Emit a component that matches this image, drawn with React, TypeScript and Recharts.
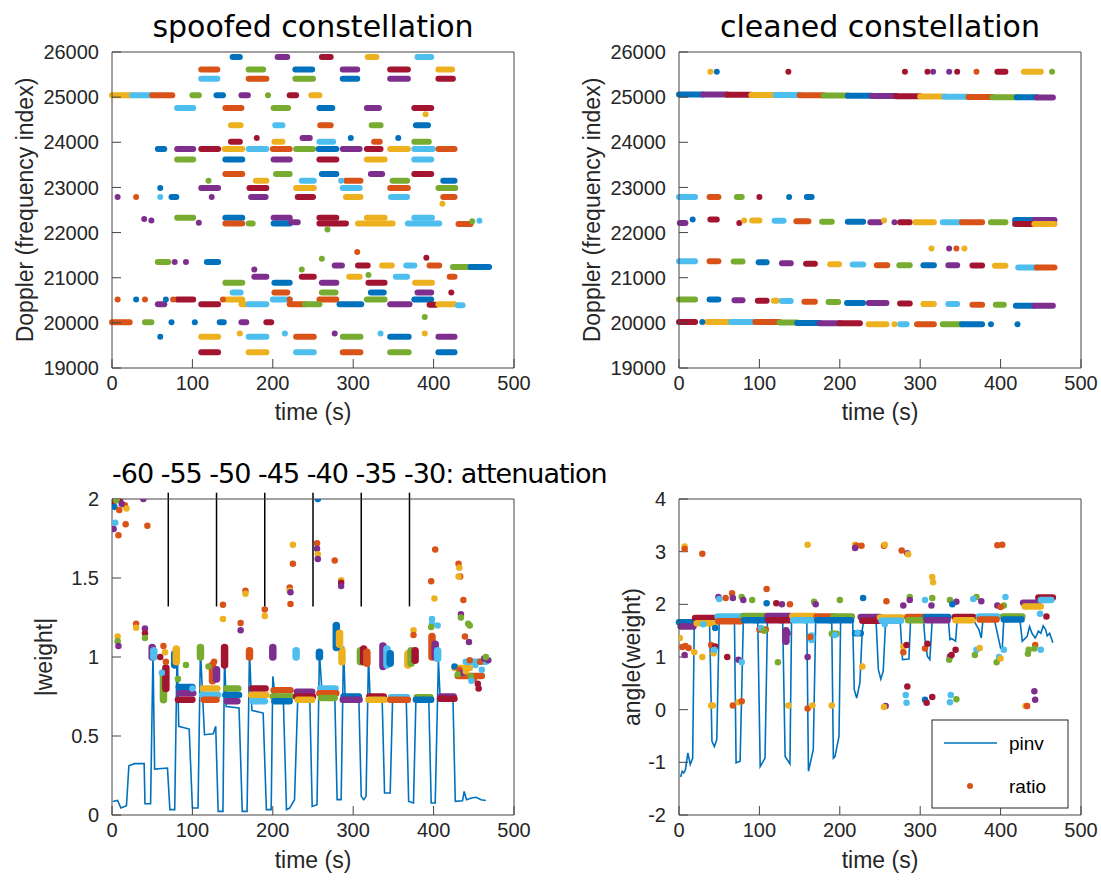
import React from 'react'
import { ComposedChart, Scatter, Line, XAxis, YAxis, ReferenceLine } from 'recharts'

const COLORS = ['#0072BD', '#D95319', '#EDB120', '#7E2F8E', '#77AC30', '#4DBEEE', '#A2142F']
const AXIS = '#444'
const SANS = 'Liberation Sans, Arial, sans-serif'
const TITLE_FONT = 'DejaVu Sans, sans-serif'

const TIME_TICKS = [0, 100, 200, 300, 400, 500]
const DOPPLER_TICKS = [19000, 20000, 21000, 22000, 23000, 24000, 25000, 26000]
const WEIGHT_TICKS = [0, 0.5, 1, 1.5, 2]
const ANGLE_TICKS = [-2, -1, 0, 1, 2, 3, 4]
const ATTEN_TIMES = [70, 130, 190, 250, 310, 370]

// horizontal runs of dots: [t start, t end, value]
const spoofedTracks = [
  [150, 159, 25890], [206, 218, 25890], [261, 272, 25890], [318, 329, 25890], [380, 397, 25890],
  [111, 131, 25610], [170, 188, 25610], [228, 249, 25610], [287, 305, 25610], [346, 368, 25610], [406, 423, 25610],
  [111, 131, 25410], [170, 192, 25410], [228, 250, 25410], [287, 305, 25410], [346, 368, 25410], [406, 424, 25410],
  [0, 25, 25040], [25, 50, 25040], [50, 75, 25040], [100, 108, 25040], [130, 138, 25040], [161, 169, 25040], [221, 229, 25040], [248, 258, 25040],
  [81, 101, 24760], [141, 161, 24760], [201, 219, 24760], [258, 274, 24760], [317, 332, 24760], [376, 397, 24760],
  [148, 160, 24380], [203, 212, 24380], [259, 272, 24380], [323, 334, 24380], [378, 393, 24380],
  [237, 246, 24095],
  [148, 159, 24010], [202, 212, 24010], [258, 275, 24010], [326, 333, 24010], [376, 394, 24010],
  [57, 65, 23850], [81, 101, 23850], [111, 132, 23850], [140, 162, 23850], [170, 192, 23850], [200, 221, 23850],
  [229, 250, 23850], [257, 279, 23850], [287, 308, 23850], [317, 334, 23850], [346, 368, 23850], [376, 399, 23850], [406, 426, 23850],
  [81, 101, 23620], [141, 162, 23620], [201, 221, 23620], [258, 279, 23620], [317, 339, 23620], [376, 397, 23620],
  [141, 162, 23300], [204, 221, 23300], [261, 279, 23300], [322, 336, 23300], [376, 397, 23300],
  [179, 192, 23150], [236, 251, 23150], [291, 309, 23150], [349, 367, 23150], [412, 426, 23150],
  [111, 132, 22990], [171, 192, 22990], [229, 251, 22990], [287, 308, 22990], [346, 368, 22990], [406, 427, 22990],
  [74, 80, 22790], [173, 191, 22790], [231, 250, 22790], [291, 309, 22790], [347, 367, 22790], [412, 426, 22790],
  [81, 101, 22330], [141, 162, 22330], [201, 221, 22330], [258, 279, 22330], [317, 339, 22330], [376, 398, 22330],
  [141, 162, 22200], [170, 175, 22200], [201, 221, 22200], [223, 231, 22230], [258, 291, 22200], [306, 349, 22200], [368, 407, 22200], [431, 446, 22190],
  [57, 70, 21350], [118, 132, 21350],
  [277, 286, 21270], [306, 318, 21270], [336, 348, 21270], [366, 376, 21270], [395, 407, 21270], [424, 446, 21240], [446, 469, 21240],
  [177, 192, 21020], [236, 251, 21020], [295, 308, 21020], [353, 367, 21020], [420, 426, 21020],
  [141, 162, 20890], [202, 221, 20890], [261, 279, 20890], [319, 339, 20890], [377, 398, 20890],
  [150, 160, 20670], [202, 218, 20670], [261, 278, 20670], [322, 338, 20670], [380, 397, 20670],
  [81, 101, 20515], [141, 162, 20515], [200, 221, 20515], [258, 279, 20515], [317, 339, 20515], [376, 397, 20515],
  [57, 65, 20410], [111, 132, 20410], [161, 167, 20410], [170, 192, 20410], [221, 240, 20410], [240, 258, 20410], [283, 310, 20410],
  [346, 370, 20410], [395, 403, 20400], [406, 426, 20410], [430, 436, 20390],
  [0, 22, 20013], [41, 49, 20013], [134, 139, 20013], [161, 167, 20013], [192, 198, 20013],
  [111, 132, 19690], [170, 192, 19690], [229, 251, 19690], [287, 309, 19690], [346, 369, 19690], [406, 426, 19690],
  [111, 132, 19350], [170, 192, 19350], [229, 251, 19350], [287, 309, 19350], [346, 369, 19350], [406, 426, 19350],
]

// single dots: [t, value, colour index]
const spoofedDots = [
  [194, 25040, 4], [390, 24620, 2], [180, 24095, 6], [297, 24095, 0], [356, 24095, 0],
  [120, 23150, 4], [285, 23150, 5], [60, 22990, 0],
  [7, 22790, 3], [30, 22790, 1], [60, 22790, 5], [124, 22790, 3], [411, 22640, 2],
  [40, 22300, 3], [49, 22270, 3], [108, 22220, 3], [448, 22250, 4], [457, 22260, 5], [268, 22066, 4],
  [78, 21350, 3], [92, 21350, 3], [261, 21420, 4], [391, 21440, 6], [305, 21570, 1],
  [177, 21180, 3], [236, 21180, 4], [319, 21060, 4], [422, 20670, 6],
  [7, 20515, 1], [30, 20515, 0], [41, 20515, 1], [67, 20515, 0], [76, 20515, 1], [138, 20515, 1], [221, 20515, 1],
  [74, 20013, 0], [103, 20013, 0], [389, 20130, 4],
  [60, 19690, 0], [159, 19763, 2], [215, 19763, 5], [277, 19763, 3], [334, 19763, 5], [389, 19763, 2],
]

const cleanedTracks = [
  [0, 30, 25060], [30, 60, 25058], [60, 90, 25055], [90, 120, 25050], [120, 150, 25045], [150, 180, 25040],
  [180, 210, 25035], [210, 240, 25030], [240, 270, 25025], [270, 300, 25020], [300, 330, 25015], [330, 360, 25010],
  [360, 390, 25005], [390, 420, 25000], [420, 445, 24995], [445, 465, 24990],
  [396, 406, 25560], [429, 450, 25560],
  [0, 20, 22790], [38, 49, 22790], [72, 78, 22790], [159, 165, 22790],
  [1, 8, 22210], [39, 47, 22290], [91, 100, 22270], [119, 130, 22260], [146, 161, 22250], [178, 190, 22240],
  [210, 229, 22240], [238, 250, 22230], [275, 287, 22230], [294, 317, 22230], [328, 352, 22230], [352, 377, 22230], [388, 406, 22230],
  [418, 442, 22280], [442, 467, 22280], [418, 442, 22190], [442, 467, 22190],
  [0, 20, 21364], [38, 49, 21364], [68, 79, 21360], [99, 109, 21340], [128, 139, 21320], [158, 169, 21310],
  [188, 199, 21300], [216, 229, 21290], [246, 259, 21275], [274, 287, 21275], [304, 317, 21275], [335, 346, 21275],
  [365, 377, 21270], [393, 406, 21265], [422, 445, 21225], [445, 467, 21225],
  [0, 20, 20516], [38, 49, 20516], [69, 79, 20500], [98, 109, 20490], [118, 122, 20490], [128, 139, 20485],
  [156, 169, 20470], [186, 198, 20460], [209, 229, 20440], [236, 258, 20440], [275, 287, 20430], [304, 317, 20420],
  [335, 346, 20420], [365, 377, 20400], [394, 404, 20400], [419, 442, 20380], [442, 465, 20380],
  [0, 20, 20020], [35, 65, 20020], [65, 95, 20020], [95, 125, 20020], [125, 147, 20010], [147, 175, 19995],
  [175, 200, 19990], [200, 225, 19990], [236, 258, 19970], [275, 283, 19970], [296, 317, 19970], [328, 352, 19970], [352, 377, 19970],
]

const cleanedDots = [
  [39, 25560, 2], [47, 25560, 0], [136, 25560, 6], [281, 25560, 6], [309, 25560, 6], [316, 25560, 3],
  [336, 25560, 3], [346, 25560, 6], [370, 25560, 1], [464, 25560, 4],
  [100, 22790, 6], [137, 22790, 0],
  [17, 22290, 0], [75, 22210, 6], [81, 22270, 2], [255, 22270, 2], [268, 22230, 3],
  [314, 21645, 2], [336, 21645, 3], [345, 21645, 1], [355, 21645, 2],
  [29, 20020, 0], [268, 19970, 2], [388, 19970, 0], [421, 19970, 0],
]

// pinv |weight| trace: [t, value]
const pinvWeight = [
  [1, 0.086], [7, 0.092], [11, 0.044], [18, 0.059], [21, 0.312], [28, 0.325], [40, 0.325], [41, 0.071], [48, 0.071],
  [51, 1.035], [53, 0.291], [69, 0.297], [72, 0.034], [78, 0.034], [81, 1.067], [83, 0.561], [96, 0.544], [100, 0.044],
  [107, 0.044], [110, 1.046], [115, 0.508], [126, 0.514], [129, 0.561], [132, 0.023], [138, 0.023], [140, 1.025],
  [142, 0.687], [158, 0.677], [162, 0.023], [168, 0.023], [171, 1.035], [174, 0.662], [188, 0.645], [192, 0.034],
  [198, 0.034], [200, 0.877], [203, 0.751], [213, 0.751], [217, 0.034], [221, 0.044], [227, 0.097], [231, 0.73],
  [246, 0.73], [249, 0.054], [255, 0.065], [258, 1.025], [261, 0.793], [277, 0.772], [280, 0.097], [285, 0.097],
  [288, 1.067], [290, 0.74], [307, 0.74], [310, 0.118], [313, 0.097], [316, 0.118], [319, 1.004], [321, 0.74],
  [336, 0.734], [339, 0.139], [346, 0.139], [349, 0.73], [366, 0.73], [369, 0.086], [375, 0.076], [378, 0.73],
  [394, 0.73], [397, 0.076], [402, 0.076], [406, 0.983], [408, 0.751], [424, 0.751], [427, 0.086], [436, 0.09],
  [438, 0.149], [441, 0.097], [447, 0.108], [453, 0.112], [459, 0.097], [465, 0.092],
]

const weightTracks = [
  [83, 100, 0.81], [84, 101, 0.77], [82, 100, 0.73],
  [113, 131, 0.8], [112, 132, 0.76], [114, 130, 0.73],
  [142, 157, 0.8], [141, 158, 0.76], [143, 156, 0.72],
  [174, 191, 0.8], [173, 192, 0.76], [175, 190, 0.72],
  [201, 222, 0.79], [200, 223, 0.75], [202, 221, 0.72],
  [230, 249, 0.78], [229, 250, 0.75], [231, 249, 0.73],
  [259, 278, 0.8], [258, 279, 0.77], [260, 277, 0.74],
  [288, 307, 0.75], [287, 308, 0.73],
  [320, 338, 0.75], [319, 339, 0.73],
  [347, 367, 0.745], [346, 368, 0.73],
  [379, 396, 0.745], [378, 397, 0.73],
  [409, 425, 0.75], [408, 426, 0.735],
  [426, 445, 0.93], [440, 465, 0.97], [430, 460, 0.88],
]

// vertical clumps: [t, low, high]
const weightColumns = [
  [50, 1.0, 1.06], [52, 1.0, 1.04], [78, 0.95, 1.02], [80, 0.97, 1.05], [110, 1.0, 1.06], [140, 0.95, 1.06],
  [171, 1.0, 1.04], [200, 1.0, 1.06], [229, 1.0, 1.04], [258, 1.0, 1.03], [286, 0.97, 1.04], [309, 0.97, 1.04],
  [313, 0.97, 1.05], [317, 0.96, 1.03], [337, 0.94, 1.07], [342, 0.95, 1.05], [346, 0.96, 1.02], [368, 0.95, 1.02],
  [372, 0.96, 1.04], [377, 0.98, 1.04], [398, 1.0, 1.13], [402, 1.0, 1.08], [405, 0.99, 1.04], [279, 1.06, 1.2],
  [283, 1.08, 1.15], [64, 0.73, 0.9], [67, 0.8, 0.93], [125, 0.85, 0.95], [130, 0.86, 0.92],
]

const weightDots = [
  [1, 1.98, 6], [3, 1.95, 0], [5, 1.99, 4], [9, 1.93, 1], [16, 1.96, 1], [18, 1.94, 2], [4, 1.85, 5], [2, 1.81, 3],
  [8, 1.77, 1], [17, 1.84, 1], [10, 2.0, 6], [6, 2.0, 4], [12, 1.97, 3], [39, 2.0, 3], [44, 1.83, 1],
  [7, 1.13, 2], [7, 1.1, 4], [8, 1.07, 3], [30, 1.21, 1], [30, 1.185, 2], [41, 1.18, 3], [41, 1.15, 6], [41, 1.12, 4],
  [60, 1.0, 6], [67, 0.97, 1], [82, 0.86, 4], [92, 0.95, 4],
  [138, 1.33, 1], [138, 1.24, 2], [160, 1.215, 1], [160, 1.17, 3], [166, 1.42, 1], [166, 1.4, 2], [190, 1.3, 1], [190, 1.26, 2],
  [225, 1.71, 2], [225, 1.59, 1], [221, 1.44, 1], [221, 1.42, 2], [222, 1.41, 3], [222, 1.335, 1],
  [256, 2.0, 0], [255, 1.72, 1], [255, 1.685, 3], [256, 1.65, 2], [256, 1.62, 3], [277, 1.61, 1],
  [285, 1.485, 2], [285, 1.47, 6], [285, 1.45, 3], [375, 1.17, 2], [375, 1.14, 1],
  [402, 1.68, 1], [397, 1.48, 1], [401, 1.37, 2], [398, 1.24, 5], [398, 1.21, 5], [405, 1.2, 5], [397, 1.19, 4],
  [431, 1.59, 1], [432, 1.565, 2], [433, 1.51, 1], [431, 1.51, 2], [437, 1.36, 1], [434, 1.27, 3], [434, 1.25, 4],
  [445, 1.2, 4], [443, 1.21, 4], [439, 1.13, 1], [444, 1.095, 3],
  [426, 0.94, 0], [432, 0.92, 1], [436, 0.9, 3], [445, 0.98, 1], [452, 0.95, 5], [458, 0.97, 1], [463, 0.99, 3],
  [468, 0.98, 3], [450, 0.86, 1], [455, 0.83, 6], [446, 0.88, 4], [440, 0.91, 2], [430, 0.89, 4], [460, 0.92, 5],
  [465, 1.0, 4], [447, 0.85, 5], [456, 0.8, 6],
  [64, 1.07, 1], [66, 1.03, 2], [62, 0.9, 5], [100, 0.8, 5], [120, 0.94, 4], [127, 0.97, 1],
]

// pinv angle trace: [t, value]
const pinvAngle = [
  [2, -1.28], [4, -1.17], [6, -1.2], [8, -1.14], [11, -0.82], [14, -1.04], [17, -0.92], [19, 1.68], [38, 1.65],
  [41, -0.6], [44, -0.7], [47, -0.57], [50, 1.68], [69, 1.65], [71, -1.01], [76, -0.98], [80, 1.68], [98, 1.65],
  [101, -1.08], [107, -0.92], [110, 1.68], [129, 1.65], [132, -0.89], [138, -1.03], [140, 1.68], [159, 1.65],
  [161, -1.17], [167, -0.76], [170, 1.68], [190, 1.65], [192, -0.92], [194, -0.89], [199, -0.51], [201, 1.68],
  [216, 1.68], [218, 0.38], [221, 0.22], [225, 0.51], [228, 1.52], [230, 1.72], [245, 1.72], [248, 0.76],
  [251, 0.58], [254, 0.73], [257, 1.68], [275, 1.71], [278, 0.95], [286, 0.96], [288, 1.71], [304, 1.71],
  [306, 1.33], [309, 1.01], [312, 0.95], [315, 1.71], [335, 1.71], [337, 1.33], [339, 1.35], [344, 1.3],
  [346, 1.71], [366, 1.71], [370, 1.6], [373, 1.52], [376, 1.36], [378, 1.71], [392, 1.73], [395, 1.52],
  [400, 1.17], [402, 1.14], [404, 1.71], [424, 1.71], [427, 1.3], [429, 1.33], [433, 1.39], [436, 1.58],
  [439, 1.45], [443, 1.36], [445, 1.42], [447, 1.49], [450, 1.45], [453, 1.59], [456, 1.52], [458, 1.4],
  [461, 1.45], [465, 1.27],
]

const angleTracks = [
  [0, 18, 1.66], [2, 18, 1.58], [20, 46, 1.74], [22, 45, 1.64], [48, 78, 1.77], [49, 78, 1.68],
  [80, 108, 1.78], [81, 109, 1.7], [110, 139, 1.78], [111, 138, 1.7], [141, 169, 1.78], [142, 168, 1.7],
  [171, 192, 1.77], [192, 215, 1.77], [172, 214, 1.7], [226, 250, 1.76], [228, 250, 1.69], [250, 277, 1.75], [252, 276, 1.69],
  [284, 305, 1.76], [285, 304, 1.7], [307, 335, 1.76], [308, 334, 1.7], [343, 366, 1.76], [344, 365, 1.7],
  [373, 396, 1.77], [374, 395, 1.71], [403, 427, 1.77], [404, 426, 1.71],
  [428, 447, 2.03], [447, 465, 2.13], [430, 450, 1.96], [450, 463, 2.08],
  [100, 108, 1.52], [190, 196, 1.44], [219, 226, 1.45],
]

const angleColumns = [[133, 1.3, 1.5], [165, 1.33, 1.4]]

const angleDots = [
  [7, 3.1, 2], [7, 3.05, 1], [29, 2.96, 1], [160, 3.13, 2], [219, 3.13, 2], [221, 3.11, 1], [227, 3.11, 1], [219, 3.07, 3],
  [255, 3.11, 1], [256, 3.13, 2], [277, 3.02, 1], [284, 2.97, 3], [285, 2.95, 2], [396, 3.12, 1], [402, 3.13, 1],
  [315, 2.52, 2], [316, 2.42, 2], [109, 2.29, 1],
  [49, 2.14, 3], [50, 2.1, 5], [58, 2.12, 1], [66, 2.21, 1], [67, 2.12, 3], [78, 2.14, 4], [80, 2.08, 3], [91, 2.08, 4],
  [109, 2.02, 0], [121, 2.02, 6], [128, 2.0, 3], [138, 2.0, 1], [168, 2.05, 4], [170, 2.0, 3], [200, 2.08, 4], [229, 2.12, 0],
  [258, 2.06, 1], [287, 2.14, 4], [287, 2.08, 3], [306, 2.08, 5], [315, 2.12, 4], [314, 1.98, 3], [337, 2.08, 4],
  [345, 2.05, 3], [340, 2.0, 0], [370, 2.14, 4], [376, 2.06, 3], [366, 2.1, 5], [396, 1.98, 3], [404, 1.98, 4],
  [406, 2.14, 5], [400, 1.95, 1], [279, 1.98, 3],
  [1, 1.36, 2], [4, 1.19, 1], [8, 1.21, 1], [12, 1.17, 1], [19, 1.09, 2], [7, 1.04, 3], [29, 1.0, 2], [40, 1.23, 1],
  [45, 1.2, 6], [43, 1.07, 2], [44, 1.14, 5], [60, 1.0, 6], [74, 0.95, 3], [78, 0.9, 5], [123, 0.9, 4], [160, 1.0, 3], [228, 0.82, 2],
  [40, 0.08, 2], [42, 0.08, 2], [67, 0.08, 1], [74, 0.14, 2], [78, 0.16, 1], [136, 0.08, 2], [160, 0.02, 1], [166, 0.08, 2], [190, 0.08, 2],
  [279, 1.2, 2], [283, 1.23, 6], [279, 1.09, 1], [306, 1.16, 1], [309, 1.25, 6], [337, 1.01, 3], [336, 0.95, 4],
  [339, 1.04, 6], [344, 1.14, 6], [370, 1.14, 5], [374, 1.17, 2], [368, 1.04, 4], [398, 1.0, 5], [395, 0.9, 4],
  [400, 0.97, 2], [404, 1.14, 5], [434, 1.06, 4], [435, 1.14, 4], [443, 1.23, 1], [442, 1.16, 4], [450, 1.14, 5],
  [449, 1.82, 5], [457, 1.77, 6],
  [257, 0.07, 3], [255, 0.05, 2], [284, 0.44, 6], [282, 0.28, 5], [283, 0.13, 5], [306, 0.19, 0], [308, 0.13, 6],
  [315, 0.24, 6], [338, 0.28, 5], [337, 0.14, 5], [345, 0.2, 4], [442, 0.35, 3], [443, 0.19, 3], [431, 0.07, 2], [433, 0.07, 1],
  [30, 1.62, 5], [45, 1.55, 0], [102, 1.55, 5], [106, 1.5, 4], [135, 1.45, 3], [163, 1.38, 1], [194, 1.42, 5], [222, 1.46, 5], [256, 1.62, 5],
]

type PanelProps = {
  left: number
  top: number
  yDomain: [number, number]
  yTicks: number[]
  tracks: number[][]
  columns?: number[][]
  dots: number[][]
  curve?: number[][]
  marks?: number[]
  size?: number
}

const tickStyle = { fill: '#262626', fontSize: 20, fontFamily: SANS }

function Panel({ left, top, yDomain, yTicks, tracks, columns = [], dots, curve, marks = [], size = 6 }: PanelProps) {
  const dotData = dots.map(([t, y, c]) => ({ t, y, c }))
  return (
    <div style={{ position: 'absolute', left: left - 100, top: top - 10 }}>
      <ComposedChart width={528} height={366} margin={{ top: 9, right: 25, bottom: 0, left: 0 }}>
        <XAxis dataKey="t" type="number" domain={[0, 500]} ticks={TIME_TICKS} interval={0} allowDataOverflow
          height={40} tickSize={-9} tickMargin={17} stroke={AXIS} tick={tickStyle} />
        <XAxis xAxisId="top" orientation="top" type="number" domain={[0, 500]} ticks={TIME_TICKS} interval={0}
          allowDataOverflow height={1} tickSize={-9} tick={false} stroke={AXIS} />
        <YAxis dataKey="y" type="number" domain={yDomain} ticks={yTicks} interval={0} allowDataOverflow
          width={100} tickSize={-9} tickMargin={22} stroke={AXIS} tick={tickStyle} />
        <YAxis yAxisId="right" orientation="right" type="number" domain={yDomain} ticks={yTicks} interval={0}
          allowDataOverflow width={1} tickSize={-9} tick={false} stroke={AXIS} />
        {curve && (
          <Line data={curve.map(([t, y]) => ({ t, y }))} dataKey="y" stroke="#0072BD" strokeWidth={1.6}
            dot={false} isAnimationActive={false} />
        )}
        {tracks.map(([t0, t1, v], i) => (
          <ReferenceLine key={`h${i}`} segment={[{ x: t0, y: v }, { x: t1, y: v }]} stroke={COLORS[(i * 3) % 7]}
            strokeWidth={size} strokeLinecap="round" ifOverflow="visible" />
        ))}
        {columns.map(([t, v0, v1], i) => (
          <ReferenceLine key={`v${i}`} segment={[{ x: t, y: v0 }, { x: t, y: v1 }]} stroke={COLORS[(i * 2 + 3) % 7]}
            strokeWidth={size + 1} strokeLinecap="round" ifOverflow="visible" />
        ))}
        <Scatter data={dotData} isAnimationActive={false}
          shape={(p: any) => <circle cx={p.cx} cy={p.cy} r={size / 2} fill={COLORS[p.payload.c]} />} />
        {marks.map((t) => (
          <ReferenceLine key={`m${t}`} segment={[{ x: t, y: 1.32 }, { x: t, y: 2.04 }]} stroke="#000"
            strokeWidth={1.5} ifOverflow="visible" />
        ))}
      </ComposedChart>
    </div>
  )
}

export default function App() {
  const label = { fontFamily: SANS, fontSize: 23, fill: '#262626', textAnchor: 'middle' as const }
  const title = { fontFamily: TITLE_FONT, fontSize: 30, fill: '#000', textAnchor: 'middle' as const }
  return (
    <div style={{ position: 'absolute', left: 0, top: 0, width: 1101, height: 882, background: '#fff' }}>
      <Panel left={112} top={52} yDomain={[19000, 26000]} yTicks={DOPPLER_TICKS} tracks={spoofedTracks} dots={spoofedDots} />
      <Panel left={679} top={52} yDomain={[19000, 26000]} yTicks={DOPPLER_TICKS} tracks={cleanedTracks} dots={cleanedDots} />
      <Panel left={112} top={499} yDomain={[0, 2]} yTicks={WEIGHT_TICKS} tracks={weightTracks} columns={weightColumns}
        dots={weightDots} curve={pinvWeight} marks={ATTEN_TIMES} size={6.5} />
      <Panel left={679} top={499} yDomain={[-2, 4]} yTicks={ANGLE_TICKS} tracks={angleTracks} columns={angleColumns}
        dots={angleDots} curve={pinvAngle} size={6.5} />

      <svg width={1101} height={882} style={{ position: 'absolute', left: 0, top: 0, pointerEvents: 'none' }}>
        <text x={313} y={37} {...title}>spoofed constellation</text>
        <text x={880} y={37} {...title}>cleaned constellation</text>
        <text x={112} y={483} fontFamily={TITLE_FONT} fontSize={27} letterSpacing={-1} fill="#000">
          -60 -55 -50 -45 -40 -35 -30: attenuation
        </text>

        <text x={313} y={420} {...label}>time (s)</text>
        <text x={880} y={420} {...label}>time (s)</text>
        <text x={313} y={868} {...label}>time (s)</text>
        <text x={880} y={868} {...label}>time (s)</text>
        <text transform="translate(33 210) rotate(-90)" {...label}>Doppler (frequency index)</text>
        <text transform="translate(600 210) rotate(-90)" {...label}>Doppler (frequency index)</text>
        <text transform="translate(52 657) rotate(-90)" {...label}>|weight|</text>
        <text transform="translate(640 657) rotate(-90)" {...label}>angle(weight)</text>

        <rect x={932} y={720} width={136} height={88} fill="#fff" stroke="#262626" strokeWidth={1} />
        <line x1={944} y1={743} x2={997} y2={743} stroke="#0072BD" strokeWidth={1.6} />
        <circle cx={970} cy={786} r={3} fill="#D95319" />
        <text x={1009} y={750} fontFamily={SANS} fontSize={19} fill="#000">pinv</text>
        <text x={1009} y={793} fontFamily={SANS} fontSize={19} fill="#000">ratio</text>
      </svg>
    </div>
  )
}
